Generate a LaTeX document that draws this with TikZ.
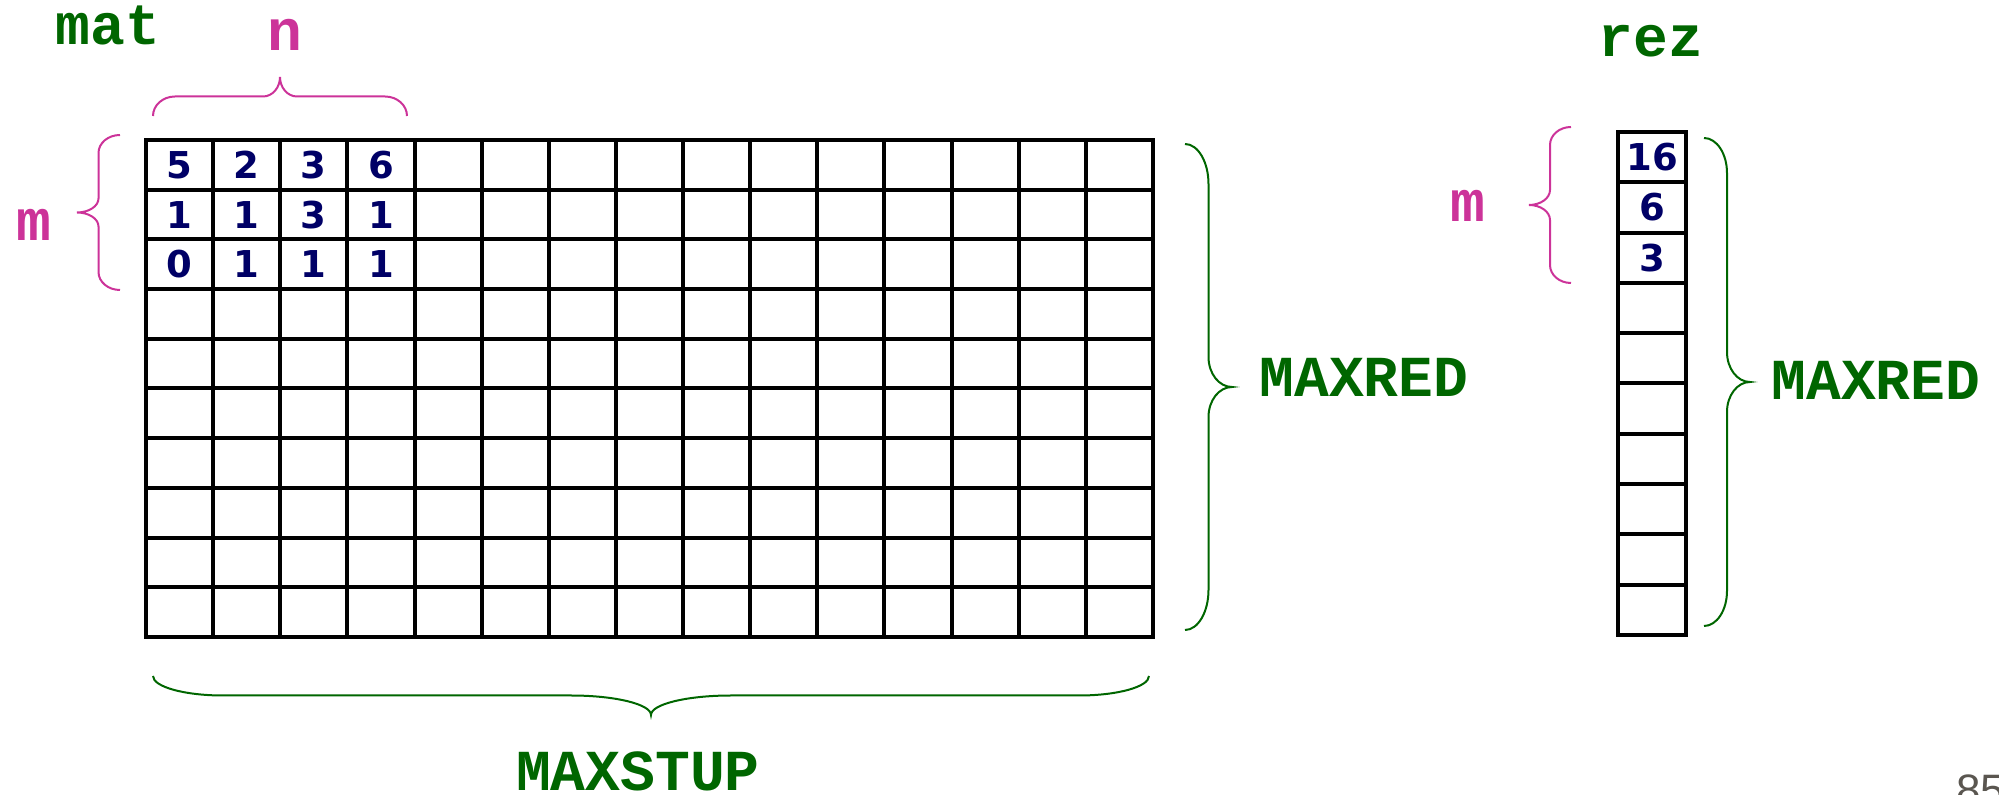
\documentclass[tikz,border=0pt]{standalone}
\usepackage{fontspec}
\usetikzlibrary{decorations}
\newfontfamily\courf{Liberation Mono}
\newfontfamily\numfont{DejaVu Sans}
\newfontfamily\pagefont{Liberation Sans}
\definecolor{dgreen}{HTML}{006600}
\definecolor{mag}{HTML}{CC3399}
\definecolor{navy}{HTML}{000066}
\definecolor{pggray}{HTML}{5A5650}
\pgfkeys{/pgf/decoration/.cd,
  hook length/.initial=10pt,
  tip length/.initial=10pt}
\pgfdeclaredecoration{pptbrace}{brace}{%
  \state{brace}[width=+\pgfdecoratedremainingdistance,next state=final]{%
    \pgfmathsetlengthmacro\bA{\pgfdecorationsegmentamplitude}%
    \pgfmathsetlengthmacro\bB{0.5*\pgfdecorationsegmentamplitude}%
    \pgfmathsetlengthmacro\bH{\pgfkeysvalueof{/pgf/decoration/hook length}}%
    \pgfmathsetlengthmacro\bT{\pgfkeysvalueof{/pgf/decoration/tip length}}%
    \pgfmathsetlengthmacro\bL{\pgfdecoratedremainingdistance}%
    \pgfmathsetlengthmacro\bM{0.5*\pgfdecoratedremainingdistance}%
    \pgfpathmoveto{\pgfpointorigin}%
    \pgfpathcurveto{\pgfpoint{0pt}{0.552*\bB}}{\pgfpoint{0.448*\bH}{\bB}}{\pgfpoint{\bH}{\bB}}%
    \pgfpathlineto{\pgfpoint{\bM-\bT}{\bB}}%
    \pgfpathcurveto{\pgfpoint{\bM-0.448*\bT}{\bB}}{\pgfpoint{\bM}{1.448*\bB}}{\pgfpoint{\bM}{\bA}}%
    \pgfpathcurveto{\pgfpoint{\bM}{1.448*\bB}}{\pgfpoint{\bM+0.448*\bT}{\bB}}{\pgfpoint{\bM+\bT}{\bB}}%
    \pgfpathlineto{\pgfpoint{\bL-\bH}{\bB}}%
    \pgfpathcurveto{\pgfpoint{\bL-0.448*\bH}{\bB}}{\pgfpoint{\bL}{0.552*\bB}}{\pgfpoint{\bL}{0pt}}%
  }%
  \state{final}{\pgfpathmoveto{\pgfpointdecoratedpathlast}}%
}
\tikzset{
  pbr/.style n args={3}{decorate,line width=1pt,
    decoration={pptbrace,amplitude=#1,hook length=#2,tip length=#3}},
  gridline/.style={line width=2pt,line cap=rect,black},
  num/.style={font=\numfont\bfseries\fontsize{18.5}{18.5}\selectfont,text=navy,inner sep=0pt},
  lblg/.style={font=\courf\bfseries\fontsize{29}{29}\selectfont,text=dgreen,inner sep=0pt,anchor=base},
  lblm/.style={font=\courf\bfseries\fontsize{29}{29}\selectfont,text=mag,inner sep=0pt,anchor=base},
}
\begin{document}
\begin{tikzpicture}[x=0.5pt,y=-0.5pt]
\useasboundingbox (0,0) rectangle (1999,795);
% main grid
\foreach \i in {0,...,15}
  \draw[gridline] ({146+\i*67.13},140) -- ({146+\i*67.13},637);
\foreach \j in {0,...,10}
  \draw[gridline] (146,{140+\j*49.7}) -- (1153,{140+\j*49.7});
% values
\foreach \r/\vals in {1/{5,2,3,6},2/{1,1,3,1},3/{0,1,1,1}}
  \foreach \v [count=\c] in \vals
    \node[num] (m-\r-\c) at ({146+(\c-0.5)*67.13},{140+(\r-0.5)*49.7}) {\v};
% rez column
\draw[gridline] (1618,132) -- (1618,635);
\draw[gridline] (1686,132) -- (1686,635);
\foreach \j in {0,...,10}
  \draw[gridline] (1618,{132+\j*50.3}) -- (1686,{132+\j*50.3});
\foreach \v [count=\k] in {16,6,3}
  \node[num] (r-\k) at (1652,{132+(\k-0.5)*50.3}) {\v};
% labels
\node[lblg] (mat) at (108,45) {mat};
\node[lblm] (nlbl) at (285,51) {n};
\node[lblm] (mlbl) at (34,241) {m};
\node[lblg] (maxred1) at (1364,397) {MAXRED};
\node[lblg] (rez) at (1651,57) {rez};
\node[lblm] (mlbl2) at (1468,222) {m};
\node[lblg] (maxred2) at (1876,400) {MAXRED};
\node[lblg] (maxstup) at (638,791) {MAXSTUP};
\node[font=\pagefont\fontsize{22}{22}\selectfont,text=pggray,inner sep=0pt,anchor=base west] (pg) at (1956,806) {85};
% brace end points
\coordinate (nA) at (153,116);  \coordinate (nB) at (407,116);
\coordinate (mA) at (120,290);  \coordinate (mB) at (120,135);
\coordinate (rA) at (1185,144); \coordinate (rB) at (1185,630);
\coordinate (zA) at (1571,283); \coordinate (zB) at (1571,127);
\coordinate (qA) at (1704,138); \coordinate (qB) at (1704,626);
\coordinate (sA) at (1149,676); \coordinate (sB) at (153,676);
% braces
\draw[pbr={19.5pt}{11pt}{8.5pt},mag] (nA) -- (nB);
\draw[pbr={21.5pt}{9pt}{7pt},mag] (mA) -- (mB);
\draw[pbr={23.5pt}{20pt}{15pt},dgreen] (rA) -- (rB);
\draw[pbr={21pt}{9pt}{7.5pt},mag] (zA) -- (zB);
\draw[pbr={23pt}{17.5pt}{15pt},dgreen] (qA) -- (qB);
\draw[pbr={19.5pt}{35pt}{40pt},dgreen] (sA) -- (sB);
\end{tikzpicture}
\end{document}
